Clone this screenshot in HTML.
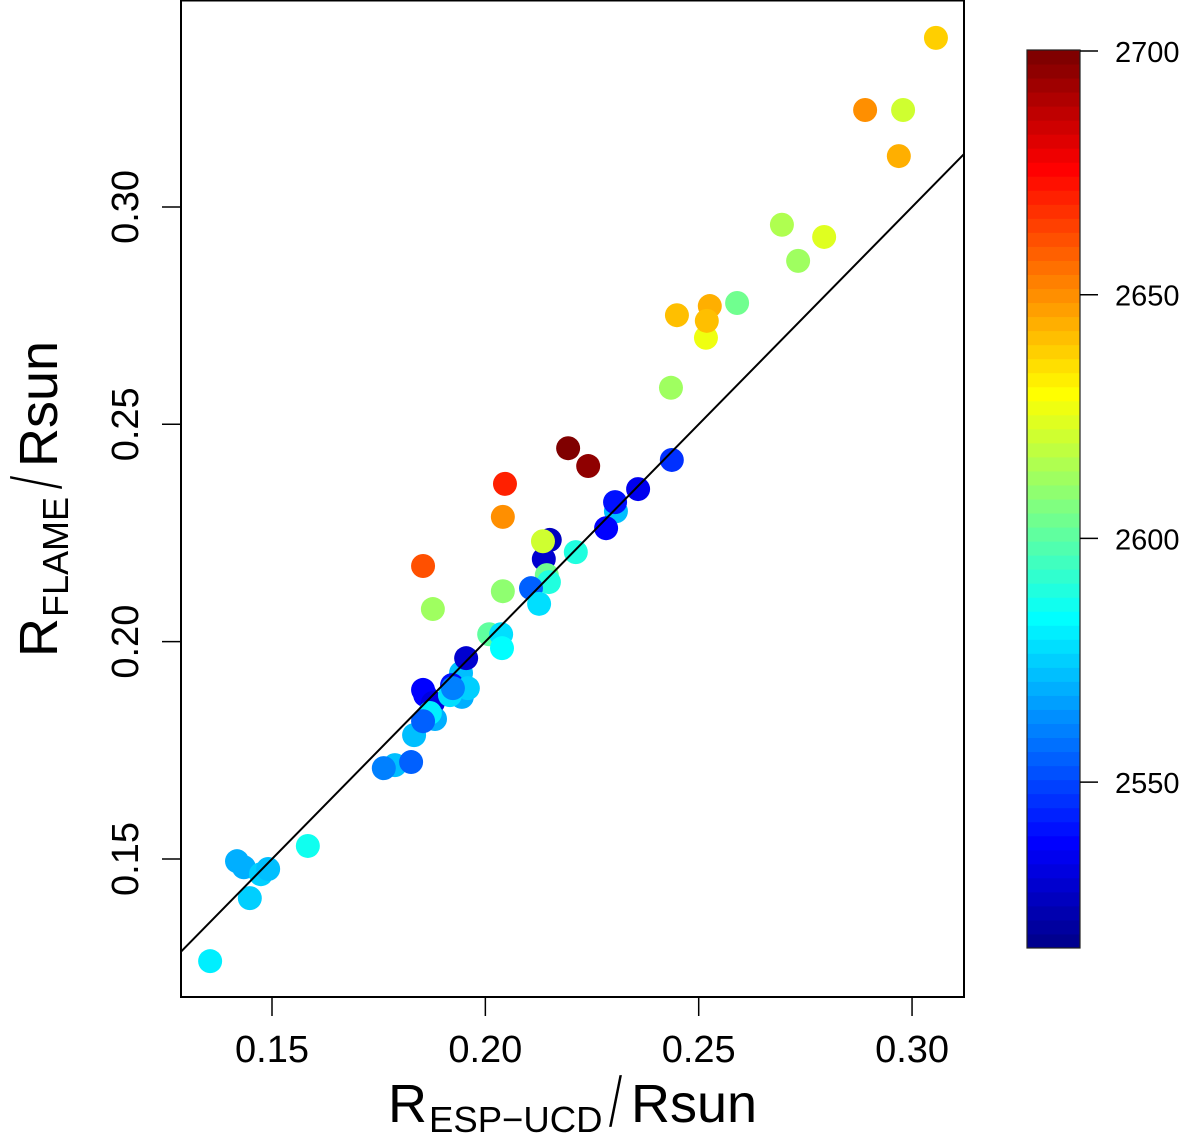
<!DOCTYPE html>
<html lang="en">
<head>
<meta charset="utf-8">
<title>R FLAME vs R ESP-UCD</title>
<style>
html,body{margin:0;padding:0;background:#fff;width:1200px;height:1141px;overflow:hidden}
svg{display:block}
text{font-family:"Liberation Sans",Arial,sans-serif;fill:#000}
</style>
</head>
<body>
<svg id="chart" xmlns="http://www.w3.org/2000/svg" width="1200" height="1141" viewBox="0 0 1200 1141">
  <g id="colorbar"></g>
  <g id="points"></g>
  <g id="axes"></g>
  <rect x="181" y="0.5" width="783" height="996.5" fill="none" stroke="#000" stroke-width="2"/>
  <g>
    <text x="388" y="1122" font-size="54">R</text>
    <text x="429" y="1132" font-size="36.5">ESP−UCD</text>
    <text transform="translate(608,1127) scale(1,1.36)" font-size="54" stroke="#fff" stroke-width="1.6" paint-order="fill stroke">/</text>
    <text x="631" y="1122" font-size="54">Rsun</text>
  </g>
  <g transform="translate(57,657) rotate(-90)">
    <text x="0" y="0" font-size="54">R</text>
    <text x="40" y="11" font-size="36">FLAME</text>
    <text transform="translate(167,5) scale(1,1.36)" font-size="54" stroke="#fff" stroke-width="1.6" paint-order="fill stroke">/</text>
    <text x="190" y="0" font-size="54">Rsun</text>
  </g>
</svg>
<script>
const xValues = [0.3056,0.2890,0.2979,0.2969,0.2695,0.2794,0.2733,0.2449,0.2526,0.2517,0.2519,0.2590,0.2435,0.2194,0.2241,0.2046,0.2041,0.2437,0.2358,0.2306,0.2304,0.2283,0.2151,0.2137,0.2135,0.2212,0.2144,0.2149,0.1854,0.1877,0.2041,0.2107,0.2126,0.2009,0.2037,0.2039,0.1943,0.1955,0.1854,0.1859,0.1877,0.1882,0.1870,0.1833,0.1854,0.1922,0.1945,0.1959,0.1917,0.1924,0.1788,0.1762,0.1826,0.1584,0.1418,0.1434,0.1474,0.1491,0.1448,0.1355];
const yValues = [0.3389,0.3223,0.3223,0.3117,0.2959,0.2931,0.2876,0.2751,0.2772,0.2699,0.2738,0.2779,0.2584,0.2445,0.2404,0.2363,0.2287,0.2418,0.2351,0.2300,0.2321,0.2261,0.2234,0.2190,0.2231,0.2206,0.2153,0.2137,0.2174,0.2075,0.2116,0.2123,0.2087,0.2017,0.2017,0.1985,0.1928,0.1962,0.1889,0.1877,0.1859,0.1822,0.1836,0.1785,0.1817,0.1900,0.1873,0.1893,0.1877,0.1893,0.1716,0.1709,0.1723,0.1530,0.1495,0.1481,0.1465,0.1477,0.1410,0.1265];
const tempValues = [2638,2650,2620,2644,2614,2624,2612,2641,2644,2626,2640,2604,2613,2698,2696,2671,2649,2546,2536,2573,2540,2538,2526,2528,2621,2589,2605,2588,2662,2613,2610,2555,2578,2602,2578,2583,2572,2530,2537,2538,2533,2569,2582,2573,2554,2540,2569,2575,2578,2560,2572,2561,2556,2585,2570,2570,2576,2571,2575,2580];
const xTicks = [0.15,0.20,0.25,0.30];
const yTicks = [0.15,0.20,0.25,0.30];
const colorTicks = [2550,2600,2650,2700];
const identityLine = [0.1287,0.3122];
const tempRange = [2516,2700];

const svgNS = 'http://www.w3.org/2000/svg';
const xScale = v => 272 + (v - 0.15) * 4267;
const yScale = v => 859 - (v - 0.15) * 4347;
const colorScale = v => 51 + (2700 - v) * 4.874;

function jet(i) {
  const c = x => Math.max(0, Math.min(1, x));
  const r = c(Math.min((i - 24) / 16, (72 - i) / 16));
  const g = c(Math.min((i - 8) / 16, (56 - i) / 16));
  const b = c(Math.min((i + 8) / 16, (40 - i) / 16));
  return 'rgb(' + Math.round(r * 255) + ',' + Math.round(g * 255) + ',' + Math.round(b * 255) + ')';
}
function tempColor(t) {
  const f = (t - tempRange[0]) / (tempRange[1] - tempRange[0]);
  const i = Math.min(64, Math.max(1, Math.floor(f * 64) + 1));
  return jet(i);
}
function make(tag, attrs, parent, text) {
  const el = document.createElementNS(svgNS, tag);
  for (const k in attrs) el.setAttribute(k, attrs[k]);
  if (text !== undefined) el.textContent = text;
  parent.appendChild(el);
  return el;
}

const pointsG = document.getElementById('points');
xValues.forEach((x, i) => {
  const dot = make('circle', {cx: xScale(x), cy: yScale(yValues[i]), r: 12, fill: tempColor(tempValues[i])}, pointsG);
  
  
});

const axesG = document.getElementById('axes');
const refLine = make('line', {x1: xScale(identityLine[0]), y1: yScale(identityLine[0]), x2: xScale(identityLine[1]), y2: yScale(identityLine[1]), stroke: '#000', 'stroke-width': 2}, axesG);



xTicks.forEach(v => {
  const tick = make('line', {x1: xScale(v), x2: xScale(v), y1: 997, y2: 1016, stroke: '#000', 'stroke-width': 1.5}, axesG);
  
  
  const label = make('text', {x: xScale(v), y: 1062, 'font-size': 38, 'text-anchor': 'middle'}, axesG, v.toFixed(2));
  
  
});
yTicks.forEach(v => {
  const tick = make('line', {x1: 162, x2: 181, y1: yScale(v), y2: yScale(v), stroke: '#000', 'stroke-width': 1.5}, axesG);
  
  
  const label = make('text', {transform: 'translate(138,' + yScale(v) + ') rotate(-90)', 'font-size': 38, 'text-anchor': 'middle'}, axesG, v.toFixed(2));
  
  
});

const barG = document.getElementById('colorbar');
for (let i = 1; i <= 64; i++) {
  const h = 898 / 64;
  const cell = make('rect', {x: 1027, y: 50 + (64 - i) * h, width: 53, height: h + 0.5, fill: jet(i)}, barG);
  
  
}
const barFrame = make('rect', {x: 1027, y: 50, width: 53, height: 898, fill: 'none', stroke: '#222', 'stroke-width': 1.2}, barG);


colorTicks.forEach(v => {
  const tick = make('line', {x1: 1080, x2: 1098, y1: colorScale(v), y2: colorScale(v), stroke: '#000', 'stroke-width': 1.5}, barG);
  
  
  const label = make('text', {x: 1115, y: colorScale(v) + 11, 'font-size': 29}, barG, String(v));
  
  
});
</script>
</body>
</html>
